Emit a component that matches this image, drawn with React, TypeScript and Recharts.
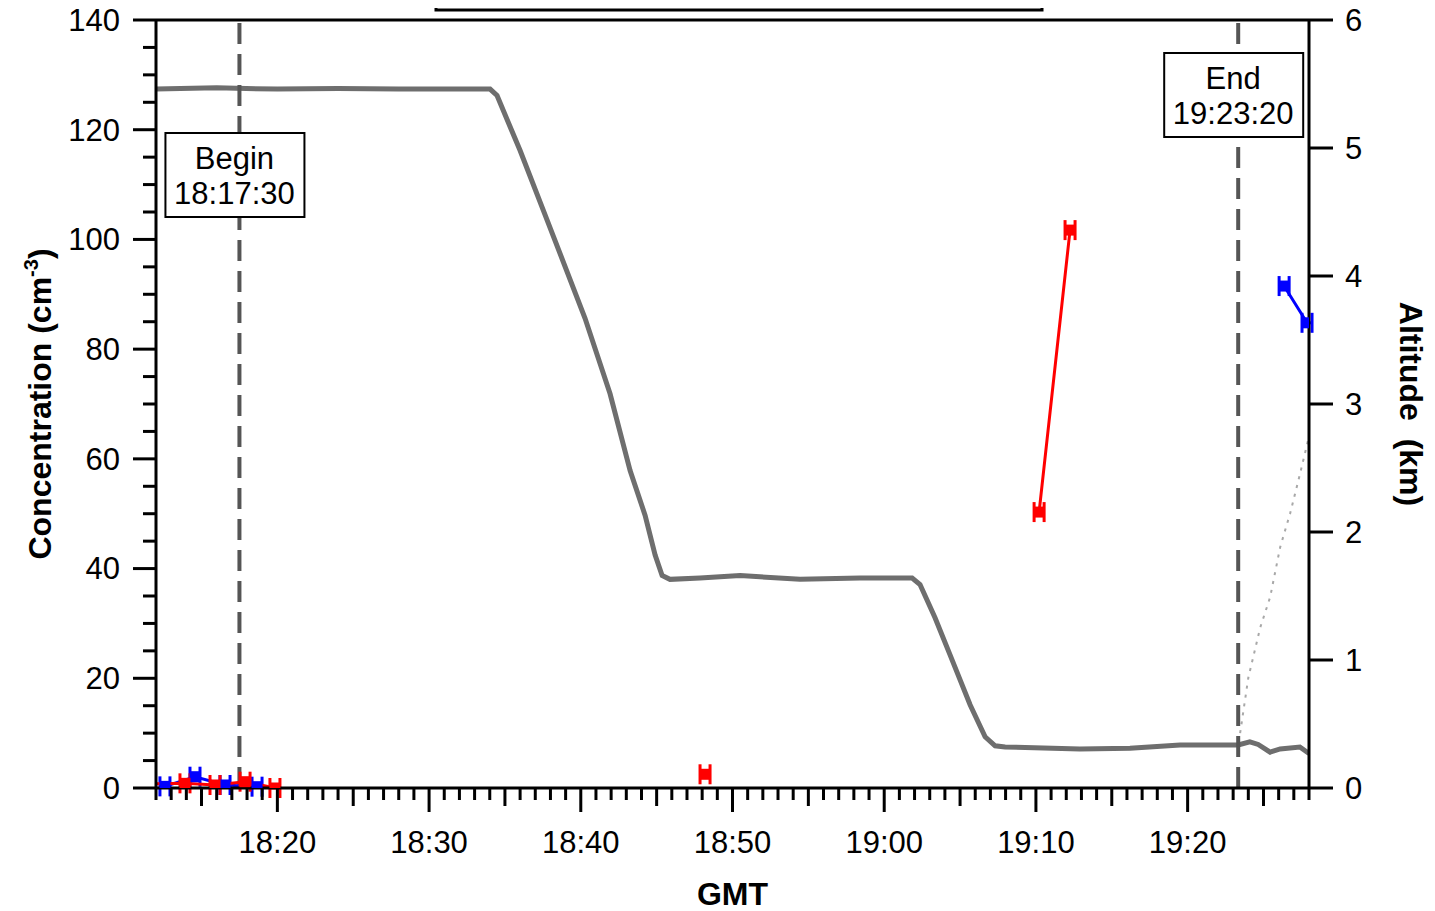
import React from 'react';
import {
  ComposedChart,
  Line,
  Scatter,
  ErrorBar,
  XAxis,
  YAxis,
  ReferenceLine,
} from 'recharts';

const FONT = '"Liberation Sans", Arial, Helvetica, sans-serif';

// time is minutes after 18:00 GMT
const altTime = [12, 16, 20, 24, 28, 32, 34.02, 34.48, 36.0, 37.64, 40.28, 41.93, 43.25, 44.24, 44.9, 45.36, 45.88, 47.86, 50.5, 54.45, 58.4, 61.84, 62.36, 63.35, 64.34, 65.66, 66.65, 67.31, 67.97, 72.9, 76.2, 79.5, 83.33, 84.1, 84.65, 85.44, 86.1, 87.4, 88.0];
const altKm = [5.46, 5.47, 5.46, 5.465, 5.46, 5.46, 5.46, 5.41, 4.98, 4.48, 3.67, 3.08, 2.48, 2.13, 1.82, 1.66, 1.63, 1.64, 1.66, 1.63, 1.64, 1.64, 1.59, 1.33, 1.04, 0.65, 0.4, 0.33, 0.32, 0.305, 0.31, 0.336, 0.336, 0.36, 0.34, 0.28, 0.305, 0.32, 0.27];

const faintTime = [83.46, 84.0, 84.78, 85.44, 86.1, 86.76, 87.42, 87.94];
const faintConc = [10.0, 20.1, 29.2, 34.8, 43.9, 50.1, 57.4, 63.4];

// null entries break the line
const redTime = [11.5, 13.91, 15.89, 17.87, 19.84, 30, 48.19, 60, 70.21, 72.25];
const redConc = [0.75, 0.85, 0.55, 1.15, 0.0, null, 2.5, null, 50.3, 101.7];

const blueTime = [12.59, 14.57, 16.55, 18.66, 50, 86.36, 87.87];
const blueConc = [0.3, 2.06, 0.55, 0.24, null, 91.5, 84.8];

const timeErr = 0.33;

const xTicks = Array.from({ length: 77 }, (_, i) => 12 + i);
const leftTicks = Array.from({ length: 29 }, (_, i) => i * 5);
const rightTicks = [0, 1, 2, 3, 4, 5, 6];

const beginTime = 17.5; // 18:17:30
const endTime = 83 + 20 / 60; // 19:23:20

const altRows = altTime.map((t, i) => ({ t, a: altKm[i] }));
const faintRows = faintTime.map((t, i) => ({ t, c: faintConc[i] }));
const redRows = redTime.map((t, i) => ({ t, c: redConc[i], e: timeErr }));
const blueRows = blueTime.map((t, i) => ({ t, c: blueConc[i], e: timeErr }));
const inView = (r: any) => r.c !== null && r.t >= 12 && r.t <= 88;

const fmtTime = (v: number) => {
  const h = 18 + Math.floor(v / 60);
  const m = v % 60;
  return `${h}:${m < 10 ? '0' + m : m}`;
};

const TimeTick = ({ x, y, payload }: any) => {
  const v = payload.value;
  const len = v % 10 === 0 ? 24 : v % 5 === 0 ? 18 : 12;
  return (
    <g>
      <line x1={x} x2={x} y1={y} y2={y + len} stroke="#000" strokeWidth={3} />
      {v % 10 === 0 && (
        <text x={x} y={y + 65} textAnchor="middle" fontSize={31} fill="#000" fontFamily={FONT}>
          {fmtTime(v)}
        </text>
      )}
    </g>
  );
};

const ConcTick = ({ x, y, payload }: any) => {
  const v = payload.value;
  const len = v % 20 === 0 ? 23 : 13;
  return (
    <g>
      <line x1={x - len} x2={x} y1={y} y2={y} stroke="#000" strokeWidth={3} />
      {v % 20 === 0 && (
        <text x={x - 36} y={y} dy="0.35em" textAnchor="end" fontSize={31} fill="#000" fontFamily={FONT}>
          {v}
        </text>
      )}
    </g>
  );
};

const ConcTitle = ({ viewBox }: any) => {
  const cx = viewBox.x + 25;
  const cy = viewBox.y + viewBox.height / 2;
  return (
    <text
      x={cx}
      y={cy}
      transform={`rotate(-90 ${cx} ${cy})`}
      textAnchor="middle"
      fontSize={32}
      fontWeight="bold"
      fill="#000"
      fontFamily={FONT}
    >
      Concentration (cm
      <tspan dy={-13} fontSize={20}>-3</tspan>
      <tspan dy={13}>)</tspan>
    </text>
  );
};

const AltTitle = ({ viewBox }: any) => {
  const cx = viewBox.x + 91;
  const cy = viewBox.y + viewBox.height / 2;
  return (
    <text
      x={cx}
      y={cy}
      transform={`rotate(90 ${cx} ${cy})`}
      textAnchor="middle"
      fontSize={32}
      fontWeight="bold"
      fill="#000"
      fontFamily={FONT}
      style={{ whiteSpace: 'pre' }}
    >
      {'Altitude  (km)'}
    </text>
  );
};

const GmtTitle = ({ viewBox }: any) => (
  <text
    x={viewBox.x + viewBox.width / 2}
    y={viewBox.y + 117}
    textAnchor="middle"
    fontSize={32}
    fontWeight="bold"
    fill="#000"
    fontFamily={FONT}
  >
    GMT
  </text>
);

// legend frame, mostly above the top edge of the picture
const LegendFrame = ({ viewBox }: any) => (
  <rect x={viewBox.x + 280} y={viewBox.y - 30} width={606} height={20} fill="none" stroke="#000" strokeWidth={3} />
);

const markBox = (line1: string, line2: string, top: number) => ({ viewBox }: any) => {
  const x = viewBox.x;
  return (
    <g>
      <rect x={x - 74} y={top} width={139} height={84} fill="#fff" stroke="#000" strokeWidth={2} />
      <text x={x - 5} y={top + 36} textAnchor="middle" fontSize={31} fill="#000" fontFamily={FONT}>
        {line1}
      </text>
      <text x={x - 5} y={top + 71} textAnchor="middle" fontSize={31} fill="#000" fontFamily={FONT}>
        {line2}
      </text>
    </g>
  );
};

const square = (color: string) => (props: any) => (
  <rect x={props.cx - 5.5} y={props.cy - 5.5} width={11} height={11} fill={color} />
);

export default function App() {
  return (
    <div style={{ margin: '-8px 0 0 -8px', width: 1435, height: 911 }}>
      <ComposedChart width={1435} height={911} margin={{ top: 20, right: 66, bottom: 43, left: 26 }}>
        <XAxis
          dataKey="t"
          type="number"
          domain={[12, 88]}
          allowDataOverflow
          ticks={xTicks}
          interval={0}
          tickSize={0}
          tickMargin={0}
          tickLine={false}
          tick={<TimeTick />}
          axisLine={{ stroke: '#000', strokeWidth: 3 }}
          height={80}
          label={{ content: <GmtTitle /> }}
        />
        <YAxis
          yAxisId="left"
          type="number"
          domain={[0, 140]}
          allowDataOverflow
          ticks={leftTicks}
          interval={0}
          tickSize={0}
          tickMargin={0}
          tickLine={false}
          tick={<ConcTick />}
          axisLine={{ stroke: '#000', strokeWidth: 3 }}
          width={130}
          label={{ content: <ConcTitle /> }}
        />
        <YAxis
          yAxisId="right"
          orientation="right"
          type="number"
          domain={[0, 6]}
          allowDataOverflow
          ticks={rightTicks}
          interval={0}
          tickSize={24}
          tickMargin={12}
          tickLine={{ stroke: '#000', strokeWidth: 3 }}
          tick={{ fontSize: 31, fill: '#000', fontFamily: FONT }}
          axisLine={{ stroke: '#000', strokeWidth: 3 }}
          width={60}
          label={{ content: <AltTitle /> }}
        />
        <ReferenceLine yAxisId="left" y={140} stroke="#000" strokeWidth={3} label={{ content: <LegendFrame /> }} />
        <Line
          yAxisId="right"
          data={altRows}
          dataKey="a"
          type="linear"
          stroke="#6e6e6e"
          strokeWidth={5}
          dot={false}
          isAnimationActive={false}
        />
        <Line
          yAxisId="left"
          data={faintRows}
          dataKey="c"
          type="linear"
          stroke="#a8a8a8"
          strokeWidth={2}
          strokeDasharray="3 6"
          dot={false}
          isAnimationActive={false}
        />
        <ReferenceLine
          yAxisId="left"
          x={beginTime}
          stroke="#555"
          strokeWidth={4}
          strokeDasharray="21 10"
          label={{ content: markBox('Begin', '18:17:30', 133) }}
        />
        <ReferenceLine
          yAxisId="left"
          x={endTime}
          stroke="#555"
          strokeWidth={4}
          strokeDasharray="21 10"
          label={{ content: markBox('End', '19:23:20', 53) }}
        />
        <Line
          yAxisId="left"
          data={blueRows}
          dataKey="c"
          type="linear"
          stroke="#0000ff"
          strokeWidth={3}
          dot={false}
          connectNulls={false}
          isAnimationActive={false}
        />
        <Scatter
          yAxisId="left"
          data={blueRows.filter(inView)}
          dataKey="c"
          fill="#0000ff"
          shape={square('#0000ff')}
          isAnimationActive={false}
        >
          <ErrorBar dataKey="e" direction="x" width={10} stroke="#0000ff" strokeWidth={3} />
        </Scatter>
        <Line
          yAxisId="left"
          data={redRows}
          dataKey="c"
          type="linear"
          stroke="#ff0000"
          strokeWidth={3}
          dot={false}
          connectNulls={false}
          isAnimationActive={false}
        />
        <Scatter
          yAxisId="left"
          data={redRows.filter(inView)}
          dataKey="c"
          fill="#ff0000"
          shape={square('#ff0000')}
          isAnimationActive={false}
        >
          <ErrorBar dataKey="e" direction="x" width={10} stroke="#ff0000" strokeWidth={3} />
        </Scatter>
      </ComposedChart>
    </div>
  );
}
